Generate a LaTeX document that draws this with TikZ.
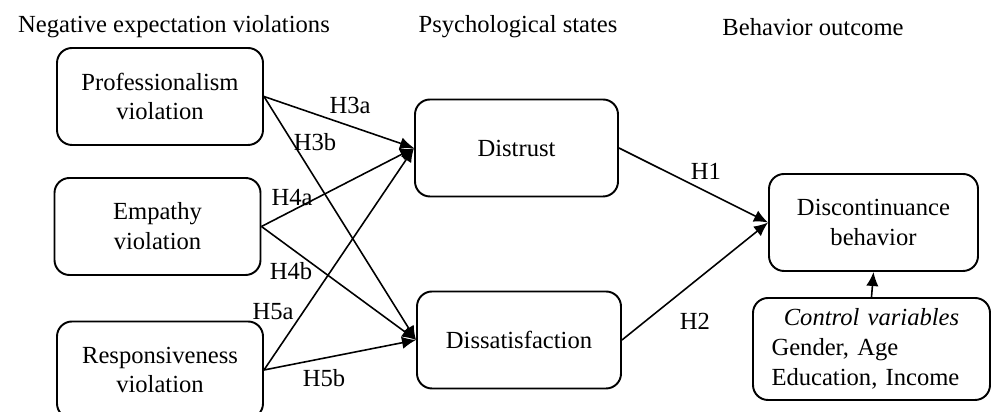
\documentclass[tikz,border=0pt]{standalone}
\usepackage{fontspec}
\setmainfont{Liberation Serif}
\usetikzlibrary{arrows.meta}

\begin{document}
\begin{tikzpicture}[>={Latex[length=8pt,width=7pt]}, font=\fontsize{14}{17}\selectfont,
	box/.style={draw, line width=1.1pt, rounded corners=0.3cm, minimum width=4.12cm, minimum height=1.94cm, align=center},
	hyp/.style={->, line width=0.9pt}]
\useasboundingbox (0,0) rectangle (19.84,8.24);
% column titles
\node (hneg) at (3.48,7.7) {Negative expectation violations};
\node (hpsy) at (10.36,7.7) {Psychological states};
\node (hbeh) at (16.26,7.7) {Behavior outcome};
% constructs
\node[box] (prof) at (3.2,6.31) {Professionalism\\violation};
\node[box] (emp) at (3.15,3.71) {Empathy\\violation};
\node[box] (resp) at (3.2,0.84) {Responsiveness\\violation};
\node[box, minimum width=4.06cm] (dist) at (10.33,5.28) {Distrust};
\node[box, minimum width=4.08cm] (dsat) at (10.38,1.44) {Dissatisfaction};
\node[box, minimum width=4.18cm] (disc) at (17.47,3.79) {Discontinuance\\behavior};
\node[box, minimum width=4.74cm, minimum height=2.04cm, text width=4.0cm, align=left] (ctrl) at (17.43,1.26)
	{\makebox[\linewidth]{\textit{Control variables}}\\Gender, Age\\Education, Income};
% paths
\draw[hyp] (prof.east) -- (dist.west);
\draw[hyp] (prof.east) -- (dsat.west);
\draw[hyp] (emp.east) -- (dist.west);
\draw[hyp] (emp.east) -- (dsat.west);
\draw[hyp] (resp.east) -- (dist.west);
\draw[hyp] (resp.east) -- (dsat.west);
\draw[hyp] (dist.east) -- (disc.west);
\draw[hyp] (dsat.east) -- (disc.west);
\draw[hyp] (ctrl.north) -- (disc.south);
% hypothesis labels
\node (h3a) at (7.0,6.14) {H3a};
\node (h3b) at (6.3,5.4) {H3b};
\node (h4a) at (5.84,4.28) {H4a};
\node (h4b) at (5.82,2.82) {H4b};
\node (h5a) at (5.46,2.0) {H5a};
\node (h5b) at (6.48,0.68) {H5b};
\node (h1) at (14.12,4.82) {H1};
\node (h2) at (13.9,1.82) {H2};
\end{tikzpicture}
\end{document}
